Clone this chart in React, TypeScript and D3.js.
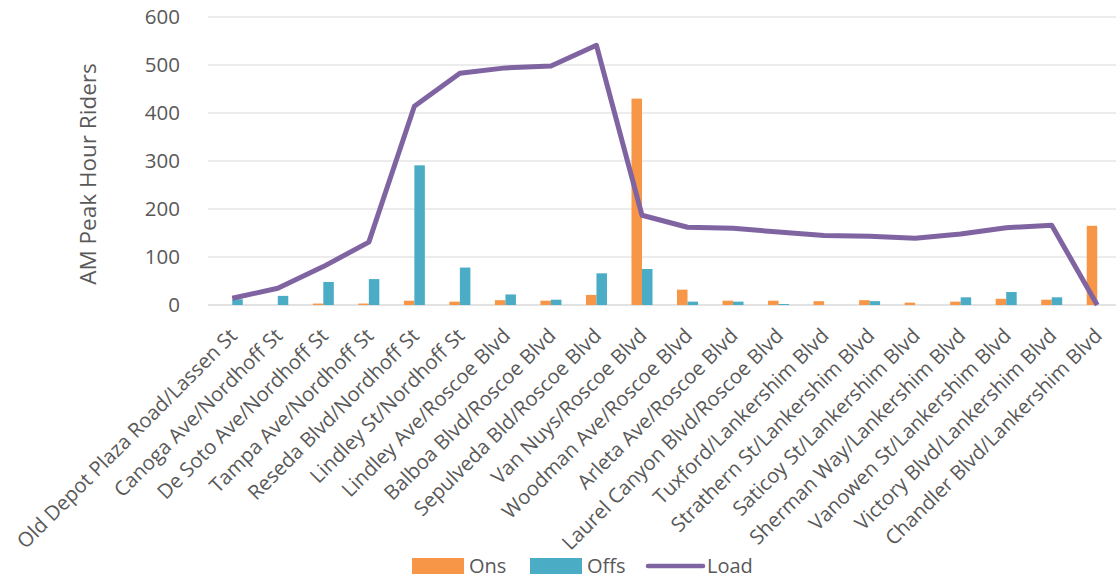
import React from "react";
import * as d3 from "d3";

const categories = [
  "Old Depot Plaza Road/Lassen St",
  "Canoga Ave/Nordhoff St",
  "De Soto Ave/Nordhoff St",
  "Tampa Ave/Nordhoff St",
  "Reseda Blvd/Nordhoff St",
  "Lindley St/Nordhoff St",
  "Lindley Ave/Roscoe Blvd",
  "Balboa Blvd/Roscoe Blvd",
  "Sepulveda Bld/Roscoe Blvd",
  "Van Nuys/Roscoe Blvd",
  "Woodman Ave/Roscoe Blvd",
  "Arleta Ave/Roscoe Blvd",
  "Laurel Canyon Blvd/Roscoe Blvd",
  "Tuxford/Lankershim Blvd",
  "Strathern St/Lankershim Blvd",
  "Saticoy St/Lankershim Blvd",
  "Sherman Way/Lankershim Blvd",
  "Vanowen St/Lankershim Blvd",
  "Victory Blvd/Lankershim Blvd",
  "Chandler Blvd/Lankershim Blvd",
];

const ons = [0, 0, 3, 3, 9, 7, 10, 9, 21, 430, 32, 9, 9, 8, 10, 5, 7, 13, 11, 165];
const offs = [12, 19, 48, 54, 291, 78, 22, 11, 66, 75, 7, 7, 2, 0, 8, 0, 16, 27, 16, 0];
const load = [14, 35, 80, 131, 414, 483, 494, 498, 541, 187, 162, 160, 152, 145, 143, 139, 148, 161, 166, 0];

const yTicks = [0, 100, 200, 300, 400, 500, 600];

const W = 1116;
const H = 582;
const FONT = "'Open Sans', sans-serif";
const TEXT = "#595959";

export default function App() {
  const x = d3.scaleBand<string>().domain(categories).range([209.5, 1120]);
  const y = d3.scaleLinear().domain([0, 600]).range([305, 17]);
  const bw = 10.5;

  const line = d3
    .line<number>()
    .x((_, i) => (x(categories[i]) as number) + x.bandwidth() / 2)
    .y((d) => y(d));

  return (
    <svg
      width={W}
      height={H}
      style={{ position: "absolute", left: 0, top: 0, background: "#fff" }}
      fontFamily={FONT}
    >
      {yTicks.map((t) => (
        <g key={t}>
          <line x1={208} x2={W} y1={y(t)} y2={y(t)} stroke="#D9D9D9" strokeWidth={t === 0 ? 1.5 : 1.2} />
          <text x={180} y={y(t)} dy="0.36em" textAnchor="end" fontSize={20.5} fill={TEXT}>
            {t}
          </text>
        </g>
      ))}
      <text
        transform={`translate(${96}, ${174}) rotate(-90)`}
        textAnchor="middle"
        fontSize={22.5}
        fill={TEXT}
      >
        AM Peak Hour Riders
      </text>
      {categories.map((c, i) => {
        const cx = (x(c) as number) + x.bandwidth() / 2;
        return (
          <g key={c}>
            <rect x={cx - bw} y={y(ons[i])} width={bw} height={y(0) - y(ons[i])} fill="#F79646" />
            <rect x={cx} y={y(offs[i])} width={bw} height={y(0) - y(offs[i])} fill="#4BACC6" />
          </g>
        );
      })}
      <path d={line(load) || ""} fill="none" stroke="#8064A2" strokeWidth={5} strokeLinejoin="round" />
      {categories.map((c) => {
        const cx = (x(c) as number) + x.bandwidth() / 2;
        return (
          <text
            key={c}
            transform={`translate(${cx - 4}, ${327}) rotate(-45)`}
            textAnchor="end"
            dy="0.7em"
            fontSize={20.3}
            fill={TEXT}
          >
            {c}
          </text>
        );
      })}
      <g fontSize={20} fill={TEXT}>
        <rect x={412} y={558} width={52} height={16} fill="#F79646" />
        <text x={469} y={566} dy="0.36em">Ons</text>
        <rect x={530} y={558} width={52} height={16} fill="#4BACC6" />
        <text x={587} y={566} dy="0.36em">Offs</text>
        <line x1={648} x2={703} y1={566} y2={566} stroke="#8064A2" strokeWidth={4.5} strokeLinecap="round" />
        <text x={707} y={566} dy="0.36em">Load</text>
      </g>
    </svg>
  );
}
